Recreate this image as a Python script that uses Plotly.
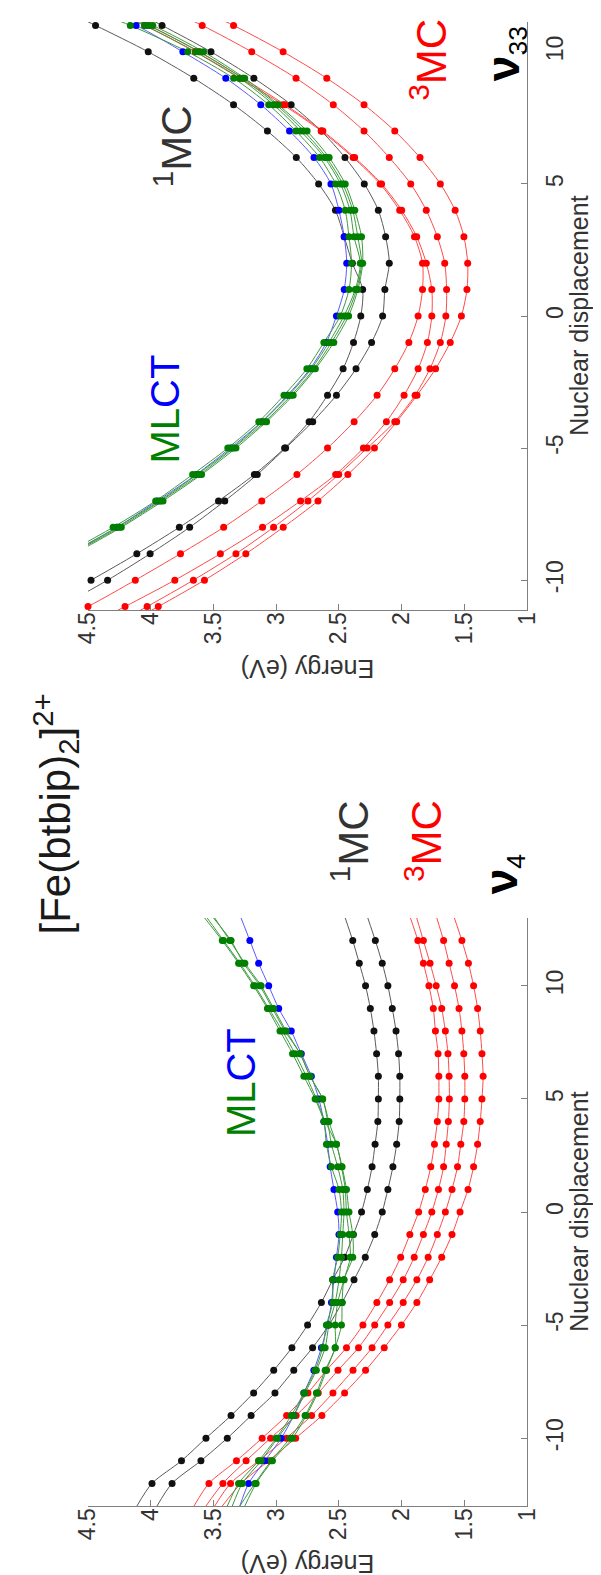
import plotly.graph_objects as go

# ---------------- data ----------------
# nuclear displacement sample points
disp_v4 = list(range(-13, 14))    # bottom panel (nu4), 27 points
disp_v33 = list(range(-12, 13))   # top panel (nu33), 25 points

# energies (eV) -- bottom panel, nu4
v4_1MC_a = [4.11, 3.99, 3.755, 3.56, 3.36, 3.18, 3.02, 2.875, 2.75, 2.64, 2.55, 2.455, 2.385, 2.32, 2.274,
            2.236, 2.212, 2.19, 2.186, 2.186, 2.20, 2.221, 2.25, 2.288, 2.338, 2.39, 2.45]
v4_1MC_b = [3.95, 3.83, 3.60, 3.39, 3.20, 3.01, 2.86, 2.71, 2.58, 2.475, 2.38, 2.29, 2.215, 2.155, 2.11,
            2.07, 2.04, 2.02, 2.015, 2.015, 2.025, 2.045, 2.075, 2.11, 2.155, 2.21, 2.27]
v4_3MC_a = [3.655, 3.536, 3.317, 3.112, 2.917, 2.747, 2.60, 2.44, 2.309, 2.198, 2.096, 2.008, 1.935, 1.865, 1.812,
            1.768, 1.739, 1.716, 1.704, 1.704, 1.71, 1.731, 1.748, 1.783, 1.827, 1.871, 1.93]
v4_3MC_b = [3.56, 3.425, 3.24, 3.045, 2.841, 2.665, 2.508, 2.344, 2.215, 2.096, 1.988, 1.90, 1.827, 1.76, 1.707,
            1.666, 1.645, 1.628, 1.62, 1.622, 1.631, 1.652, 1.681, 1.725, 1.774, 1.827, 1.88]
v4_3MC_c = [3.49, 3.364, 3.14, 2.92, 2.718, 2.548, 2.388, 2.236, 2.11, 1.988, 1.879, 1.789, 1.716, 1.652, 1.599,
            1.555, 1.529, 1.505, 1.497, 1.497, 1.505, 1.52, 1.543, 1.579, 1.622, 1.666, 1.72]
v4_3MC_d = [3.43, 3.28, 3.06, 2.845, 2.636, 2.455, 2.288, 2.139, 2.002, 1.879, 1.777, 1.681, 1.599, 1.535, 1.471,
            1.427, 1.395, 1.374, 1.36, 1.351, 1.36, 1.374, 1.395, 1.427, 1.468, 1.52, 1.58]
v4_MLCT_g1 = [3.39, 3.30, 3.14, 3.00, 2.88, 2.78, 2.69, 2.63, 2.60, 2.55, 2.55, 2.51, 2.49, 2.48, 2.50,
              2.56, 2.60, 2.62, 2.69, 2.78, 2.87, 2.97, 3.07, 3.18, 3.30, 3.43, 3.57]
v4_MLCT_g2 = [3.35, 3.27, 3.12, 2.99, 2.86, 2.77, 2.68, 2.61, 2.58, 2.53, 2.50, 2.48, 2.47, 2.46, 2.47,
              2.51, 2.56, 2.59, 2.63, 2.73, 2.81, 2.93, 3.03, 3.13, 3.26, 3.36, 3.50]
v4_MLCT_g3 = [3.29, 3.17, 3.04, 2.89, 2.77, 2.68, 2.61, 2.53, 2.53, 2.51, 2.46, 2.41, 2.42, 2.44, 2.45,
              2.48, 2.52, 2.61, 2.68, 2.76, 2.85, 2.95, 3.06, 3.17, 3.29, 3.42, 3.55]
v4_MLCT_g4 = [3.25, 3.16, 3.03, 2.87, 2.76, 2.67, 2.60, 2.53, 2.48, 2.475, 2.46, 2.39, 2.39, 2.42, 2.44,
              2.475, 2.52, 2.58, 2.63, 2.73, 2.81, 2.92, 3.02, 3.12, 3.25, 3.37, 3.49]
v4_MLCT_b = [3.29, 3.22, 3.09, 2.96, 2.86, 2.78, 2.70, 2.64, 2.59, 2.56, 2.54, 2.52, 2.50, 2.51, 2.54,
             2.57, 2.59, 2.62, 2.66, 2.72, 2.80, 2.88, 2.98, 3.06, 3.14, 3.21, 3.28]

# energies (eV) -- top panel, nu33 (values above 4.5 leave the frame)
v33_1MC_a = [5.25, 4.86, 4.476, 4.111, 3.772, 3.46, 3.174, 2.933, 2.738, 2.591, 2.467, 2.384, 2.326,
             2.311, 2.393, 2.458, 2.528, 2.662, 2.84, 3.07, 3.34, 3.657, 4.02, 4.44, 4.88]
v33_1MC_b = [5.10, 4.72, 4.344, 4.005, 3.69, 3.41, 3.151, 2.925, 2.709, 2.52, 2.364, 2.24, 2.152,
             2.134, 2.099, 2.128, 2.186, 2.298, 2.452, 2.641, 2.881, 3.178, 3.52, 3.91, 4.33]
v33_3MC_a = [4.92, 4.50, 4.123, 3.763, 3.419, 3.115, 2.835, 2.591, 2.379, 2.196, 2.055, 1.943, 1.869,
             1.834, 1.834, 1.898, 2.016, 2.172, 2.387, 2.641, 2.946, 3.292, 3.646, 4.049, 4.50]
v33_3MC_b = [4.62, 4.205, 3.808, 3.445, 3.109, 2.806, 2.526, 2.305, 2.122, 1.981, 1.869, 1.795, 1.76,
             1.76, 1.804, 1.88, 2.00, 2.16, 2.375, 2.628, 2.93, 3.263, 3.616, 4.011, 4.46]
v33_3MC_c = [4.42, 4.029, 3.66, 3.321, 3.021, 2.747, 2.502, 2.275, 2.055, 1.893, 1.775, 1.692, 1.648,
             1.642, 1.657, 1.716, 1.804, 1.928, 2.099, 2.30, 2.545, 2.842, 3.195, 3.59, 4.05]
v33_3MC_d = [4.33, 3.94, 3.572, 3.242, 2.944, 2.667, 2.429, 2.217, 2.04, 1.878, 1.73, 1.613, 1.524,
             1.48, 1.474, 1.504, 1.574, 1.692, 1.854, 2.055, 2.30, 2.597, 2.945, 3.34, 3.80]
v33_MLCT_g1 = [None, None, None, 4.68, 4.30, 3.961, 3.666, 3.386, 3.139, 2.938, 2.756, 2.62, 2.49,
               2.42, 2.40, 2.42, 2.45, 2.526, 2.654, 2.843, 3.06, 3.339, 3.706, 4.163, 4.71]
v33_MLCT_g2 = [None, None, None, 4.65, 4.27, 3.93, 3.63, 3.35, 3.11, 2.90, 2.72, 2.58, 2.46,
               2.37, 2.33, 2.38, 2.412, 2.488, 2.616, 2.805, 3.022, 3.29, 3.642, 4.05, 4.58]
v33_MLCT_g3 = [None, None, None, 4.61, 4.235, 3.902, 3.595, 3.321, 3.077, 2.865, 2.688, 2.541, 2.423,
               2.349, 2.311, 2.32, 2.374, 2.45, 2.578, 2.754, 2.984, 3.251, 3.579, 3.984, 4.50]
v33_MLCT_g4 = [None, None, None, 4.63, 4.25, 3.92, 3.61, 3.34, 3.09, 2.88, 2.70, 2.56, 2.44,
               2.36, 2.32, 2.35, 2.39, 2.47, 2.60, 2.78, 3.00, 3.27, 3.61, 4.02, 4.54]
v33_MLCT_b = [None, None, None, 4.64, 4.27, 3.947, 3.637, 3.366, 3.115, 2.91, 2.73, 2.60, 2.52,
              2.458, 2.438, 2.458, 2.50, 2.564, 2.699, 2.894, 3.123, 3.402, 3.744, 4.117, 4.62]

energy_tickvals = [1, 1.5, 2, 2.5, 3, 3.5, 4, 4.5]
energy_ticktext = ["1", "1.5", "2", "2.5", "3", "3.5", "4", "4.5"]
disp_tickvals = [-10, -5, 0, 5, 10]
disp_ticktext = ["-10", "-5", "0", "5", "10"]

# ---------------- styling ----------------
W, H = 601, 1575
COL = {
    "k": ("#111111", "#5a5a5a"),
    "r": ("#ff0000", "#ff4a4a"),
    "g": ("#007f00", "#3f9a3f"),
    "b": ("#0000ff", "#5a5aff"),
}
FONT = "Liberation Sans, Arial, sans-serif"

fig = go.Figure()

def add_curves(curves, disp, xa, ya, dlim):
    # lines first
    for key, vals in curves:
        dot, line = COL[key]
        fig.add_trace(go.Scatter(
            x=vals, y=disp, mode="lines", xaxis=xa, yaxis=ya,
            line=dict(color=line, width=1, shape="spline", smoothing=0.8),
            hoverinfo="skip", showlegend=False))
    order = {"k": 0, "r": 1, "b": 2, "g": 3}
    for key, vals in sorted(curves, key=lambda c: order[c[0]]):
        dot, line = COL[key]
        xs = [v for v, d in zip(vals, disp) if v is not None and v <= 4.5 and abs(d) <= dlim]
        ys = [d for v, d in zip(vals, disp) if v is not None and v <= 4.5 and abs(d) <= dlim]
        fig.add_trace(go.Scatter(
            x=xs, y=ys, mode="markers", xaxis=xa, yaxis=ya, cliponaxis=False,
            marker=dict(color=dot, size=7, line=dict(width=0)),
            hoverinfo="skip", showlegend=False))

top_curves = [("k", v33_1MC_a), ("k", v33_1MC_b),
              ("r", v33_3MC_a), ("r", v33_3MC_b), ("r", v33_3MC_c), ("r", v33_3MC_d),
              ("b", v33_MLCT_b),
              ("g", v33_MLCT_g1), ("g", v33_MLCT_g2), ("g", v33_MLCT_g3), ("g", v33_MLCT_g4)]
bot_curves = [("k", v4_1MC_a), ("k", v4_1MC_b),
              ("r", v4_3MC_a), ("r", v4_3MC_b), ("r", v4_3MC_c), ("r", v4_3MC_d),
              ("b", v4_MLCT_b),
              ("g", v4_MLCT_g1), ("g", v4_MLCT_g2), ("g", v4_MLCT_g3), ("g", v4_MLCT_g4)]

add_curves(top_curves, disp_v33, "x", "y", 11)
add_curves(bot_curves, disp_v4, "x2", "y2", 12)

xdom = [69 / W, 528 / W]
axis_common = dict(showline=True, linecolor="#7f7f7f", linewidth=1.2, ticks="inside",
                   ticklen=6, tickcolor="#7f7f7f", showgrid=False, zeroline=False,
                   tickfont=dict(family=FONT, size=23, color="#333333"), tickangle=-90)
x_axis = dict(axis_common, range=[4.5, 1.0], tickvals=energy_tickvals, ticktext=energy_ticktext,
              domain=xdom, ticklabelstandoff=-8)
fig.update_layout(
    width=W, height=H, margin=dict(l=0, r=0, t=0, b=0),
    paper_bgcolor="white", plot_bgcolor="white",
    xaxis=dict(x_axis, anchor="y"),
    yaxis=dict(axis_common, range=[-11.13, 11.13], tickvals=disp_tickvals, ticktext=disp_ticktext,
               side="right", anchor="x", domain=[1 - 602 / H, 1 - 14 / H], ticklabelstandoff=7),
    xaxis2=dict(x_axis, anchor="y2"),
    yaxis2=dict(axis_common, range=[-13, 13], tickvals=disp_tickvals, ticktext=disp_ticktext,
                side="right", anchor="x2", domain=[1 - 1498 / H, 1 - 910 / H], ticklabelstandoff=7),
)

def ann(text, px, py, size, color, angle=-90):
    fig.add_annotation(text=text, x=px / W, y=1 - py / H, xref="paper", yref="paper",
                       xanchor="center", yanchor="middle", showarrow=False, textangle=angle,
                       font=dict(family=FONT, size=size, color=color))

MLCT = "<span style='color:#008000'>ML</span><span style='color:#0000ff'>CT</span>"
ann("[Fe(btbip)<sub>2</sub>]<sup>2+</sup>", 34, 806, 42, "#1a1a1a")
# bottom panel labels
ann(MLCT, 229, 1075, 40, "#008000")
ann("<sup>1</sup>MC", 343, 833, 42, "#333333")
ann("<sup>3</sup>MC", 420, 833, 42, "#ff0000")
ann("<b><span style='font-size:46px'>ν</span></b><sub>4</sub>", 503, 866, 38, "#000000")
# top panel labels
ann(MLCT, 149, 401, 40, "#008000")
ann("<sup>1</sup>MC", 158, 138, 42, "#333333")
ann("<sup>3</sup>MC", 425, 52, 42, "#ff0000")
ann("<b><span style='font-size:46px'>ν</span></b><sub>33</sub>", 505, 46, 38, "#000000")
# axis titles
ann("Energy (eV)", 298.5, 661, 25, "#333333", angle=180)
ann("Energy (eV)", 298.5, 1556, 25, "#333333", angle=180)
ann("Nuclear displacement", 582, 308, 25, "#333333")
ann("Nuclear displacement", 582, 1204, 25, "#333333")

fig.write_html("out.html")
